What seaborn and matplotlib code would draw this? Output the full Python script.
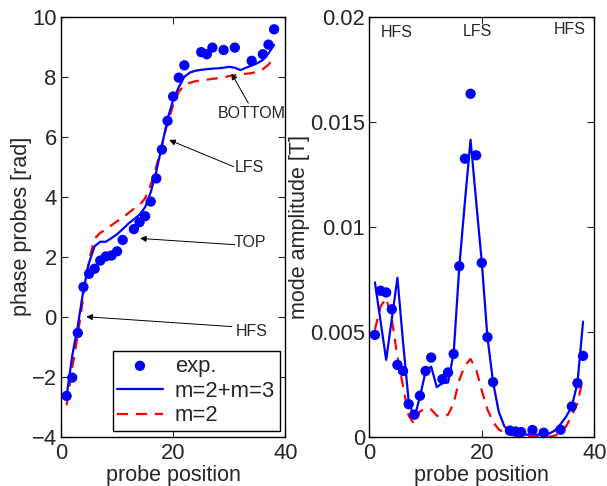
import numpy as np
import pandas as pd
import matplotlib
matplotlib.use("Agg")
import matplotlib.pyplot as plt
import seaborn as sns

# ---------------- data ----------------
probe_exp = [1, 2, 3, 4, 5, 6, 7, 8, 9, 10, 11, 13, 14, 15, 16, 17, 18, 19, 20, 21,
             22, 25, 26, 27, 29, 31, 34, 36, 37, 38]
phase_exp = [-2.64, -2.03, -0.54, 0.99, 1.43, 1.60, 1.87, 2.01, 2.04, 2.18, 2.56,
             2.92, 3.15, 3.35, 3.84, 4.61, 5.57, 6.53, 7.34, 7.97, 8.38, 8.82, 8.75,
             8.97, 8.89, 8.97, 8.53, 8.75, 9.07, 9.58]
amp_exp = [0.00485, 0.00695, 0.00687, 0.00607, 0.00342, 0.00313, 0.00155, 0.00105,
           0.00195, 0.00313, 0.00377, 0.00274, 0.00306, 0.00394, 0.00812, 0.01324,
           0.01633, 0.01340, 0.00828, 0.00474, 0.00260, 0.00029, 0.00025, 0.00022,
           0.00032, 0.00019, 0.00033, 0.00144, 0.00255, 0.00385]

probe_model = list(range(1, 39))
phase_m23 = [-2.65, -1.30, -0.30, 0.90, 1.80, 2.35, 2.50, 2.50, 2.62, 2.75, 2.92,
             3.10, 3.25, 3.40, 3.65, 4.15, 4.85, 5.70, 6.60, 7.22, 7.65, 8.00, 8.14,
             8.20, 8.23, 8.25, 8.27, 8.28, 8.30, 8.33, 8.30, 8.22, 8.30, 8.37, 8.45,
             8.56, 8.78, 9.06]
phase_m2 = [-2.95, -1.70, -0.60, 0.70, 1.90, 2.60, 2.80, 2.90, 3.05, 3.18, 3.30,
            3.45, 3.60, 3.72, 3.95, 4.40, 5.00, 5.75, 6.45, 7.05, 7.50, 7.72, 7.80,
            7.85, 7.88, 7.90, 7.93, 7.95, 7.98, 8.02, 8.05, 8.08, 8.10, 8.12, 8.17,
            8.25, 8.40, 8.65]
amp_m23 = [0.00735, 0.00550, 0.00366, 0.00560, 0.00757, 0.00450, 0.00168, 0.00089,
           0.00190, 0.00310, 0.00334, 0.00236, 0.00255, 0.00258, 0.00399, 0.00810,
           0.01120, 0.01414, 0.01120, 0.00830, 0.00474, 0.00260, 0.00120, 0.00050,
           0.00022, 0.00015, 0.00012, 0.00010, 0.00010, 0.00010, 0.00010, 0.00015,
           0.00030, 0.00060, 0.00096, 0.00144, 0.00255, 0.00548]
amp_m2 = [0.00510, 0.00620, 0.00660, 0.00560, 0.00380, 0.00240, 0.00100, 0.00060,
          0.00120, 0.00135, 0.00130, 0.00100, 0.00095, 0.00105, 0.00160, 0.00270,
          0.00340, 0.00370, 0.00320, 0.00220, 0.00130, 0.00070, 0.00035, 0.00020,
          0.00010, 0.00005, 0.00002, 0.0, 0.0, 0.0, 0.0, 0.0, 0.00005, 0.00020,
          0.00050, 0.00100, 0.00160, 0.00280]

legend_labels = ["exp.", "m=2+m=3", "m=2"]

# ---------------- style ----------------
sns.set_style("ticks")
plt.rcParams["font.family"] = ["Liberation Sans", "DejaVu Sans"]
plt.rcParams["xtick.direction"] = "in"
plt.rcParams["ytick.direction"] = "in"
plt.rcParams["xtick.top"] = True
plt.rcParams["ytick.right"] = True
plt.rcParams["axes.edgecolor"] = "black"
plt.rcParams["axes.linewidth"] = 1.0

BLUE = "#0000ff"
RED = "#ff0000"
FS = 15.8
FS_LAB = 15.5
FS_SMALL = 11.5

df_exp = pd.DataFrame({"x": probe_exp, "phase": phase_exp, "amp": amp_exp})
df_mod = pd.DataFrame({"x": probe_model, "p23": phase_m23, "p2": phase_m2,
                       "a23": amp_m23, "a2": amp_m2})

fig = plt.figure(figsize=(6.07, 4.86), dpi=100)
ax1 = fig.add_axes([0.1005, 0.1014, 0.3695, 0.8642])
ax2 = fig.add_axes([0.6084, 0.1014, 0.3707, 0.8642])

# ---------- left panel ----------
sns.scatterplot(data=df_exp, x="x", y="phase", ax=ax1, color=BLUE, s=55,
                edgecolor="none", label=legend_labels[0], zorder=3)
sns.lineplot(data=df_mod, x="x", y="p23", ax=ax1, color=BLUE, lw=1.6,
             label=legend_labels[1], zorder=4)
sns.lineplot(data=df_mod, x="x", y="p2", ax=ax1, color=RED, lw=1.6,
             dashes=False, label=legend_labels[2], zorder=2)
ax1.lines[-1].set_dashes([5, 3.5])

ax1.set_xlim(0, 40)
ax1.set_ylim(-4, 10)
ax1.set_xticks([0, 20, 40])
ax1.set_yticks(range(-4, 11, 2))
ax1.set_yticklabels(["\u22124", "\u22122", "0", "2", "4", "6", "8", "10"])
ax1.set_xlabel("probe position", fontsize=FS_LAB, labelpad=0.5)
ax1.set_ylabel("phase probes [rad]", fontsize=FS_LAB, labelpad=0)
ax1.tick_params(labelsize=FS, length=5, width=0.8, pad=3)
ax1.tick_params(axis="x", pad=4.5)

arrowprops = dict(arrowstyle="-|>", color="black", lw=0.7, mutation_scale=9,
                  shrinkA=0, shrinkB=0)
notes = [
    ("BOTTOM", (34.1, 6.79), (30.4, 8.11), (33.4, 7.12)),
    ("LFS", (33.6, 4.96), (19.3, 5.89), (30.8, 5.0)),
    ("TOP", (33.7, 2.46), (14.1, 2.61), (31.0, 2.40)),
    ("HFS", (34.0, -0.48), (4.5, 0.0), (30.5, -0.33)),
]
for txt, tpos, head, tail in notes:
    ax1.text(tpos[0], tpos[1], txt, fontsize=FS_SMALL, ha="center", va="center",
             clip_on=False, zorder=6)
    ax1.annotate("", xy=head, xytext=tail, arrowprops=arrowprops, zorder=5)

handles, labels = ax1.get_legend_handles_labels()
leg = ax1.legend(handles, labels, loc="lower right", bbox_to_anchor=(0.975, 0.014),
                 borderaxespad=0, fontsize=FS, frameon=True, fancybox=False,
                 edgecolor="black", framealpha=1, handlelength=2.1,
                 handletextpad=0.55, labelspacing=0.18, borderpad=0.2,
                 scatterpoints=1)
leg.get_frame().set_linewidth(1.0)

# ---------- right panel ----------
sns.scatterplot(data=df_exp, x="x", y="amp", ax=ax2, color=BLUE, s=55,
                edgecolor="none", zorder=3, legend=False)
sns.lineplot(data=df_mod, x="x", y="a23", ax=ax2, color=BLUE, lw=1.6, zorder=4,
             legend=False)
sns.lineplot(data=df_mod, x="x", y="a2", ax=ax2, color=RED, lw=1.6, zorder=2,
             legend=False)
ax2.lines[-1].set_dashes([5, 3.5])

ax2.set_xlim(0, 40)
ax2.set_ylim(0, 0.02)
ax2.set_xticks([0, 20, 40])
ax2.set_yticks([0, 0.005, 0.01, 0.015, 0.02])
ax2.set_yticklabels(["0", "0.005", "0.01", "0.015", "0.02"])
ax2.set_xlabel("probe position", fontsize=FS_LAB, labelpad=0.5)
ax2.set_ylabel("mode amplitude [T]", fontsize=FS_LAB, labelpad=0)
ax2.tick_params(labelsize=FS, length=5, width=0.8, pad=3)
ax2.tick_params(axis="x", pad=4.5)

for txt, x, y in [("HFS", 4.8, 0.01925), ("LFS", 19.3, 0.0193), ("HFS", 35.6, 0.0194)]:
    ax2.text(x, y, txt, fontsize=FS_SMALL, ha="center", va="center")

for ax in (ax1, ax2):
    for s in ax.spines.values():
        s.set_visible(True)
        s.set_color("black")

fig.savefig("out.png", dpi=100)
